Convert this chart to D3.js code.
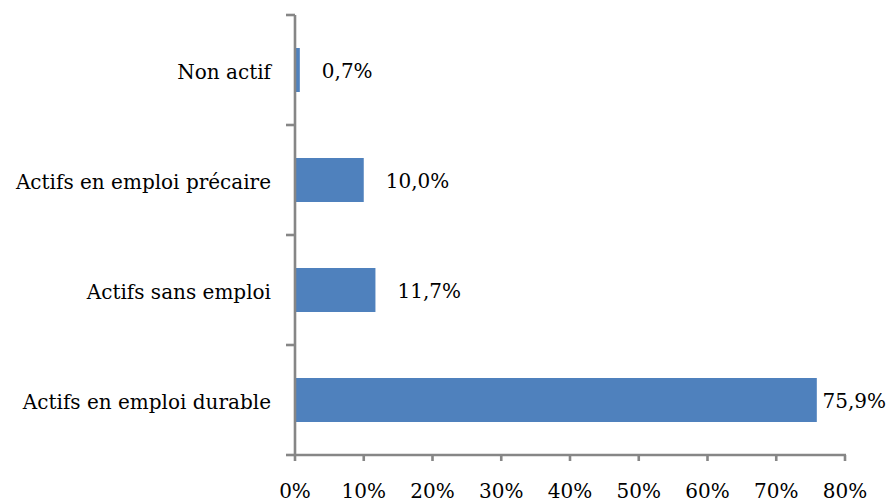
<!DOCTYPE html>
<html><head><meta charset="utf-8">
<script src="https://cdn.jsdelivr.net/npm/d3@7"></script>
<style>
html,body{margin:0;padding:0;background:#fff;}
</style></head>
<body><svg id="c" width="892" height="504"></svg>
<script>
const categories = ["Non actif", "Actifs en emploi précaire", "Actifs sans emploi", "Actifs en emploi durable"];
const values = [0.7, 10.0, 11.7, 75.9];
const valueLabels = ["0,7%", "10,0%", "11,7%", "75,9%"];
const xTicks = [0, 10, 20, 30, 40, 50, 60, 70, 80];
const xTickLabels = ["0%", "10%", "20%", "30%", "40%", "50%", "60%", "70%", "80%"];

(function () {
const svg = d3.select("#c");
const mLeft = 295, mRight = 845, mTop = 15, mBottom = 455;
const axisColor = "#868686";
const fs = 20;
const ff = "'DejaVu Serif', serif";

const x = d3.scaleLinear().domain([0, 80]).range([mLeft, mRight]);
const y = d3.scaleBand().domain(categories).range([mTop, mBottom]).paddingInner(0.6).paddingOuter(0.3);

svg.selectAll("rect.bar").data(categories).enter().append("rect")
  .attr("x", x(0)).attr("y", d => y(d))
  .attr("width", (d, i) => x(values[i]) - x(0))
  .attr("height", y.bandwidth())
  .attr("fill", "#4F81BD");

const step = y.step();
const bounds = d3.range(categories.length + 1).map(i => mTop + i * step);
svg.append("line").attr("x1", mLeft).attr("x2", mLeft).attr("y1", mTop).attr("y2", mBottom)
  .attr("stroke", axisColor).attr("stroke-width", 2.6);
svg.selectAll("line.yt").data(bounds).enter().append("line")
  .attr("x1", mLeft - 9).attr("x2", mLeft).attr("y1", d => d).attr("y2", d => d)
  .attr("stroke", axisColor).attr("stroke-width", 2.6);

svg.append("line").attr("x1", mLeft - 1).attr("x2", mRight + 1).attr("y1", mBottom).attr("y2", mBottom)
  .attr("stroke", axisColor).attr("stroke-width", 2.6);
svg.selectAll("line.xt").data(xTicks).enter().append("line")
  .attr("x1", d => x(d)).attr("x2", d => x(d)).attr("y1", mBottom).attr("y2", mBottom + 6)
  .attr("stroke", axisColor).attr("stroke-width", 2.6);
svg.selectAll("text.xl").data(xTicks).enter().append("text")
  .attr("x", d => x(d)).attr("y", mBottom + 43)
  .attr("text-anchor", "middle").attr("font-size", fs).attr("font-family", ff)
  .text((d, i) => xTickLabels[i]);

svg.selectAll("text.cl").data(categories).enter().append("text")
  .attr("x", mLeft - 24).attr("y", d => y(d) + y.bandwidth() / 2 + 8.5)
  .attr("text-anchor", "end").attr("font-size", fs).attr("font-family", ff)
  .text(d => d);

svg.selectAll("text.vl").data(categories).enter().append("text")
  .attr("y", d => y(d) + y.bandwidth() / 2 + 8)
  .attr("font-size", fs).attr("font-family", ff)
  .text((d, i) => valueLabels[i])
  .each(function(d, i) {
    const w = this.getComputedTextLength();
    let sx = x(values[i]) + 22;
    if (sx + w > 886) sx = 886 - w;
    d3.select(this).attr("x", sx);
  });
})();
</script></body></html>
